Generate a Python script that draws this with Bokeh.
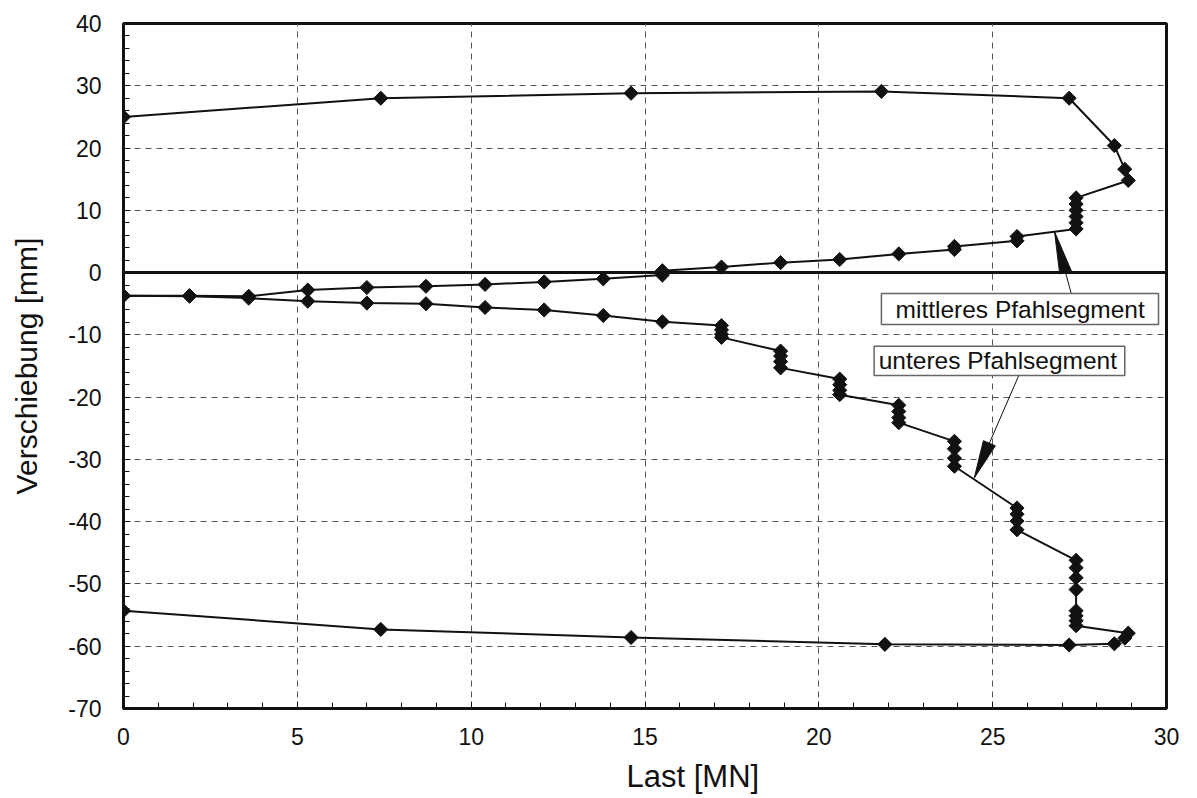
import numpy as np
from bokeh.plotting import figure
from bokeh.models import (SingleIntervalTicker, Span, BoxAnnotation, Label, Range1d,
                          Title, PrintfTickFormatter)
from bokeh.embed import file_html
from bokeh.resources import INLINE

# ---- data: Last [MN] vs Verschiebung [mm] ----
mid_last = [0, 1.9, 3.6, 5.3, 7.0, 8.7, 10.4, 12.1, 13.8, 15.5, 15.5, 17.2, 18.9, 20.6,
            22.3, 23.9, 23.9, 25.7, 25.7, 27.4, 27.4, 27.4, 27.4, 27.4, 27.4,
            28.9, 28.8, 28.5, 27.2, 21.8, 14.6, 7.4, 0]
mid_vers = [-3.7, -3.7, -3.8, -2.8, -2.4, -2.2, -1.9, -1.5, -1.0, -0.4, 0.3, 0.9, 1.6, 2.1,
            3.0, 3.7, 4.2, 5.1, 5.8, 7.0, 8.0, 9.0, 10.0, 11.0, 12.0,
            14.8, 16.6, 20.4, 28.0, 29.1, 28.8, 28.0, 25.0]

low_last = [0, 1.9, 3.6, 5.3, 7.0, 8.7, 10.4, 12.1, 13.8, 15.5,
            17.2, 17.2, 17.2, 17.2,
            18.9, 18.9, 18.9, 18.9,
            20.6, 20.6, 20.6, 20.6,
            22.3, 22.3, 22.3, 22.3,
            23.9, 23.9, 23.9, 23.9,
            25.7, 25.7, 25.7, 25.7,
            27.4, 27.4, 27.4, 27.4, 27.4, 27.4, 27.4, 27.4,
            28.9, 28.8, 28.5, 27.2, 21.9, 14.6, 7.4, 0]
low_vers = [-3.7, -3.8, -4.1, -4.6, -4.9, -5.0, -5.6, -6.0, -6.9, -7.9,
            -8.5, -9.2, -9.9, -10.4,
            -12.6, -13.4, -14.3, -15.3,
            -17.1, -18.0, -18.9, -19.6,
            -21.3, -22.3, -23.3, -24.1,
            -27.1, -28.3, -29.8, -31.1,
            -37.8, -38.8, -39.9, -41.3,
            -46.2, -47.4, -49.0, -50.9, -54.3, -55.1, -55.9, -56.7,
            -57.9, -58.7, -59.6, -59.8, -59.7, -58.6, -57.3, -54.3]

x_ticks_major = 5
y_ticks_major = 10
label_mid = "mittleres Pfahlsegment"
label_low = "unteres Pfahlsegment"
x_title = "Last [MN]"
y_title = "Verschiebung [mm]"

X0, X1 = 0, 30
Y0, Y1 = -70, 40
FW, FH = 1043, 685
FONT = "Liberation Sans"
INK = "#111111"

p = figure(frame_width=FW, frame_height=FH,
           x_range=Range1d(X0, X1), y_range=Range1d(Y0, Y1),
           output_backend="svg", toolbar_location=None,
           min_border_left=123, min_border_top=23,
           min_border_bottom=74, min_border_right=22)
p.background_fill_color = "white"
p.border_fill_color = "white"
p.outline_line_color = INK
p.outline_line_width = 3

# axes
p.xaxis.ticker = SingleIntervalTicker(interval=x_ticks_major, num_minor_ticks=5)
p.yaxis.ticker = SingleIntervalTicker(interval=y_ticks_major, num_minor_ticks=5)
p.yaxis.formatter = PrintfTickFormatter(format="%d")
p.xaxis.formatter = PrintfTickFormatter(format="%d")
for ax in (p.xaxis[0], p.yaxis[0]):
    ax.axis_line_width = 3
    ax.axis_line_color = INK
    ax.major_tick_in = 7
    ax.major_tick_out = 0
    ax.minor_tick_in = 6
    ax.minor_tick_out = 0
    ax.major_tick_line_color = INK
    ax.minor_tick_line_color = INK
    ax.major_tick_line_width = 1
    ax.minor_tick_line_width = 1
    ax.major_label_text_font = FONT
    ax.major_label_text_font_size = "23px"
    ax.major_label_text_color = INK
    ax.axis_label_text_font = FONT
    ax.axis_label_text_font_style = "normal"
    ax.axis_label_text_font_size = "30px"
    ax.axis_label_text_color = INK
p.xaxis.major_label_standoff = 19
p.yaxis.major_label_standoff = 22
p.yaxis.axis_label = y_title
p.yaxis.axis_label_standoff = 22

# x axis title, set right of centre as in the original
p.add_layout(Title(text=x_title, align="left", offset=503, text_font=FONT,
                   text_font_size="31px", text_font_style="normal",
                   text_color=INK, standoff=19), "below")

# grid
for g in (p.xgrid[0], p.ygrid[0]):
    g.grid_line_color = "#555555"
    g.grid_line_dash = "6 5"
    g.grid_line_width = 1

p.add_layout(Span(location=0, dimension="width", line_color=INK, line_width=3))

# series
p.line(mid_last, mid_vers, line_color=INK, line_width=2)
p.scatter(mid_last, mid_vers, marker="square", angle=np.pi / 4, size=10,
          fill_color=INK, line_color=INK)
p.line(low_last, low_vers, line_color=INK, line_width=2)
p.scatter(low_last, low_vers, marker="square", angle=np.pi / 4, size=10,
          fill_color=INK, line_color=INK)

# annotations
KX = FW / (X1 - X0)
KY = FH / (Y1 - Y0)


def head(tip, tail, L, W):
    dx = (tail[0] - tip[0]) * KX
    dy = (tail[1] - tip[1]) * KY
    n = np.hypot(dx, dy)
    ux, uy = dx / n, dy / n
    bx, by = ux * L, uy * L
    px, py = -uy * W / 2, ux * W / 2
    xs = [tip[0], tip[0] + (bx + px) / KX, tip[0] + (bx - px) / KX]
    ys = [tip[1], tip[1] + (by + py) / KY, tip[1] + (by - py) / KY]
    return xs, ys


arrows = [((26.78, 6.56), (27.26, -3.36), 42, 12),
          ((24.47, -33.0), (25.75, -16.53), 38, 13)]
for tip, tail, L, W in arrows:
    p.segment(x0=[tail[0]], y0=[tail[1]], x1=[tip[0]], y1=[tip[1]],
              line_color=INK, line_width=1)
    hx, hy = head(tip, tail, L, W)
    p.patch(hx, hy, fill_color=INK, line_color=INK, line_width=1)

boxes = [(21.80, 29.77, -3.36, -8.34, 25.79, -5.85, label_mid),
         (21.59, 28.80, -11.82, -16.53, 25.15, -14.18, label_low)]
for l, r, t, b, cx, cy, txt in boxes:
    p.add_layout(BoxAnnotation(left=l, right=r, top=t, bottom=b,
                               fill_color="white", fill_alpha=1.0,
                               line_color="#666666", line_width=1.5, line_alpha=1.0))
    p.add_layout(Label(x=cx, y=cy, text=txt, text_align="center",
                       text_baseline="middle", text_font=FONT,
                       text_font_size="24.5px", text_color=INK))

open("out.html", "w").write(file_html(p, INLINE))
